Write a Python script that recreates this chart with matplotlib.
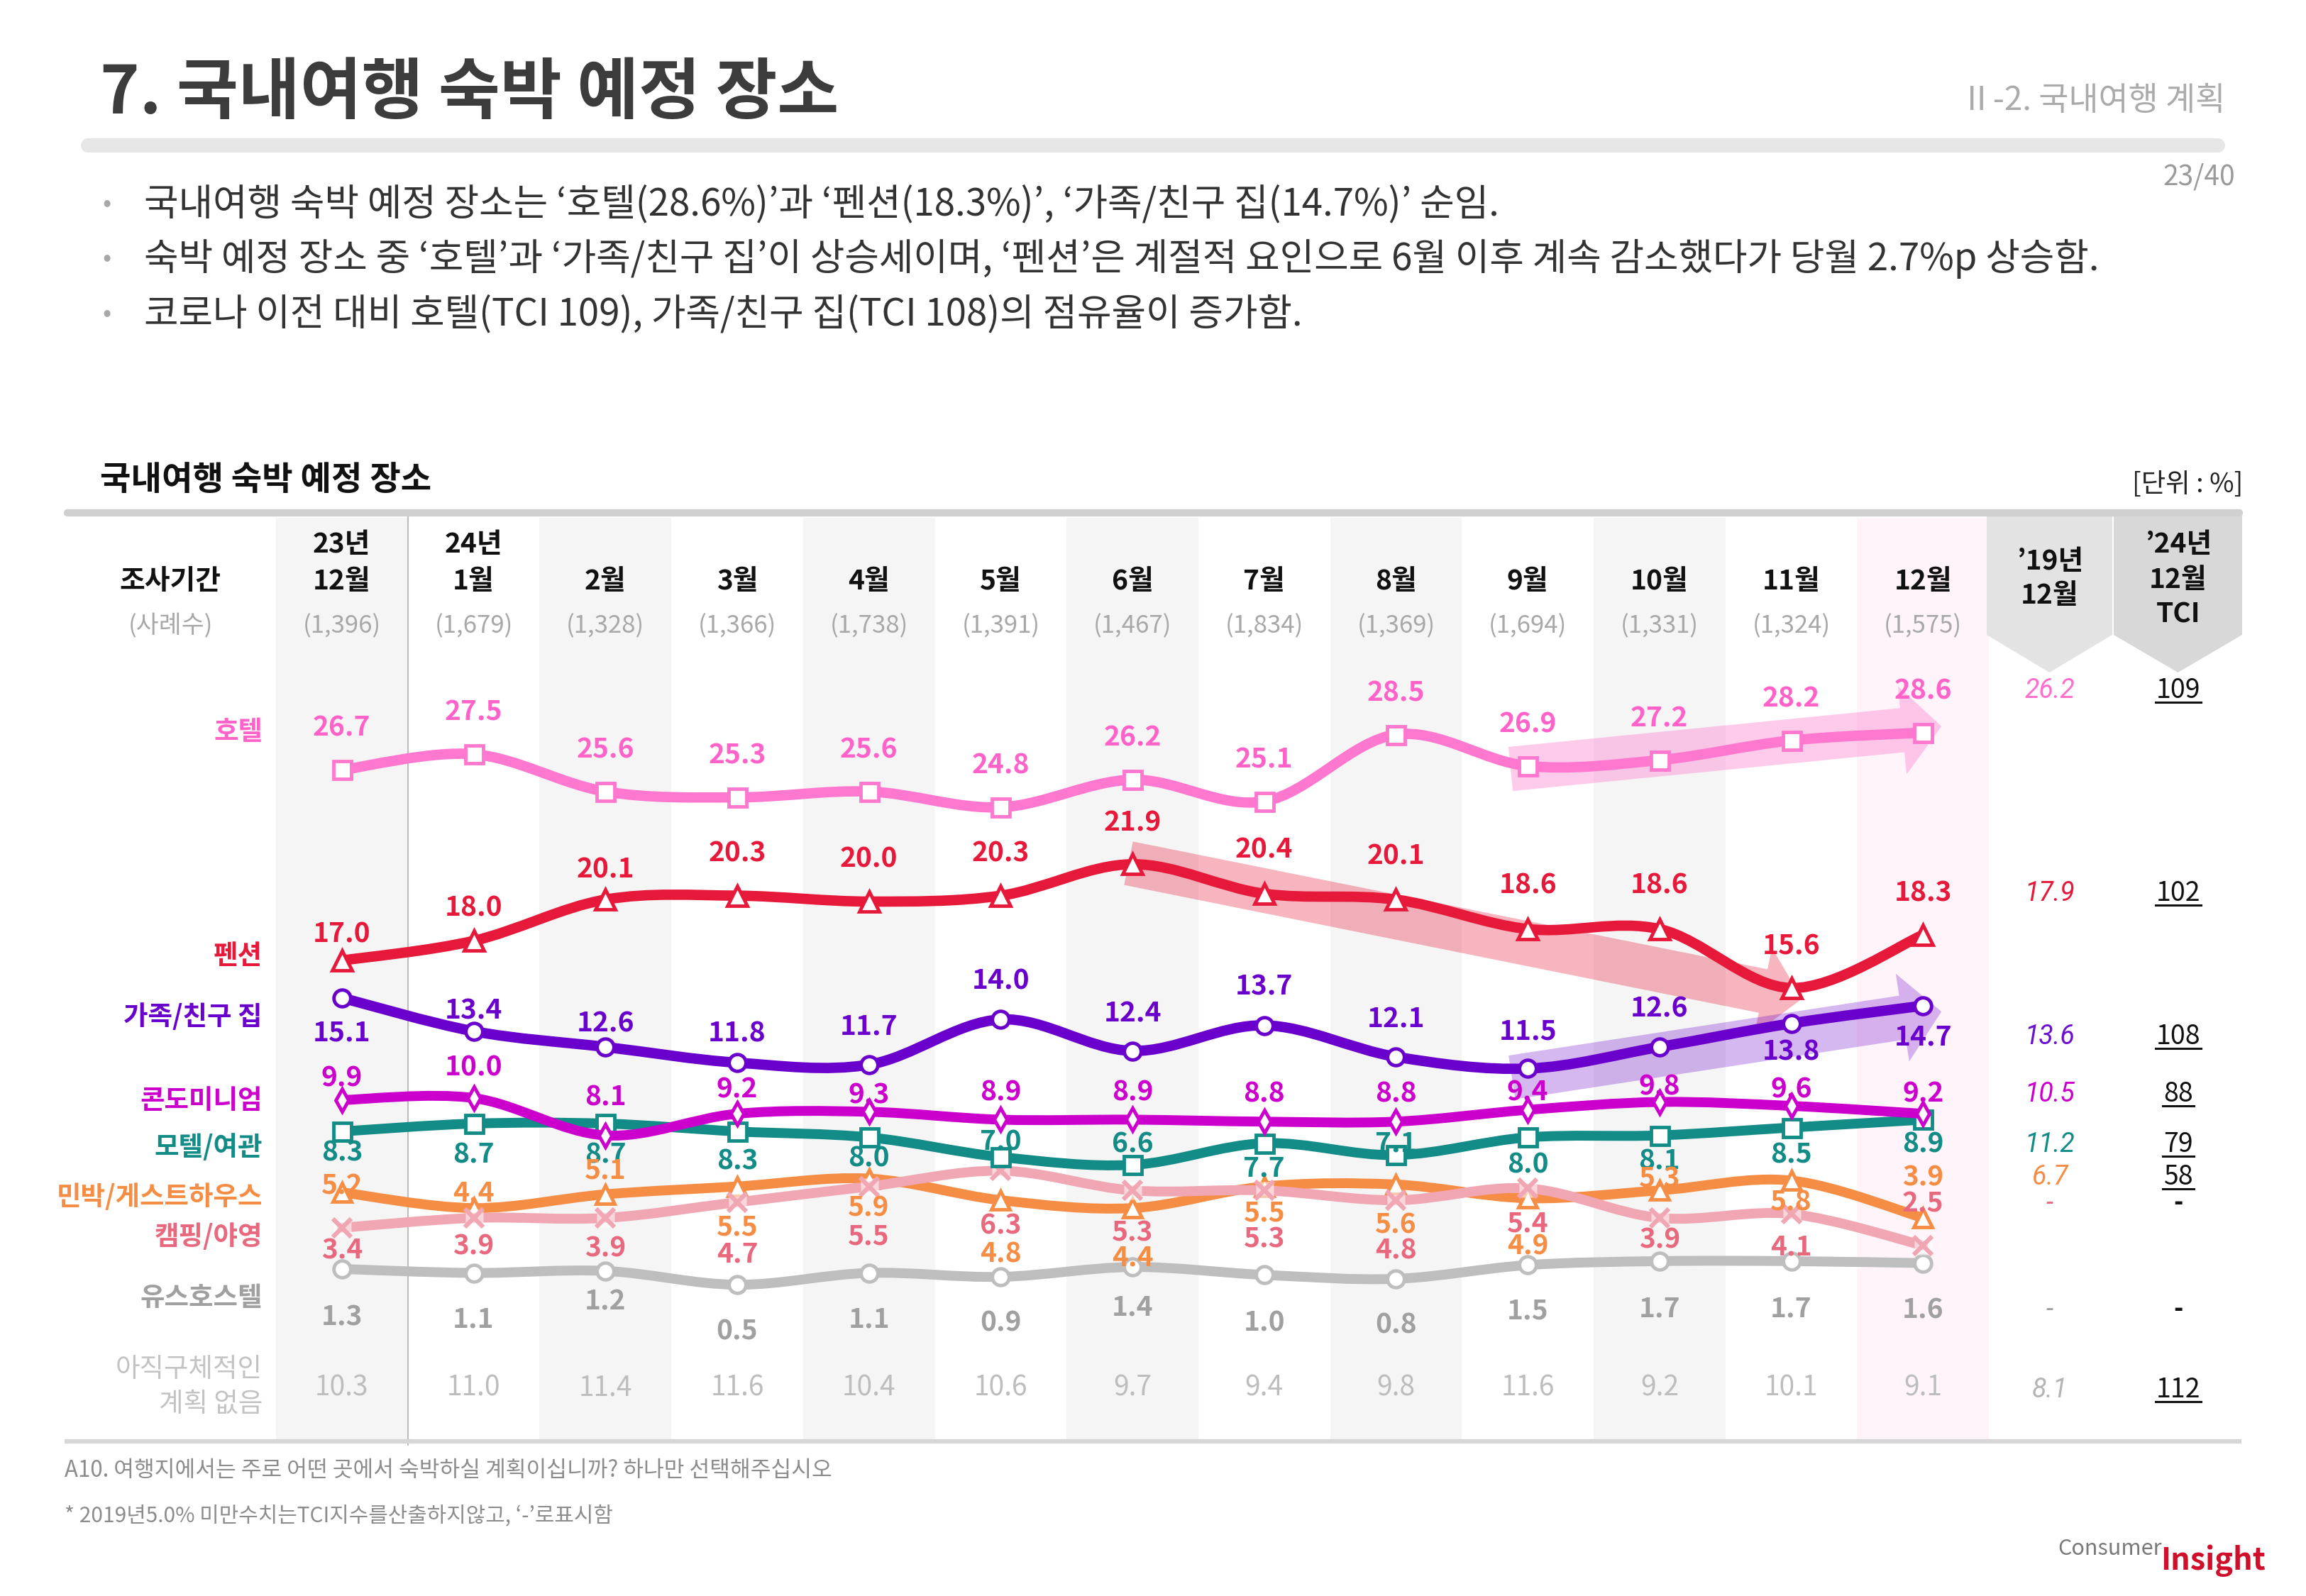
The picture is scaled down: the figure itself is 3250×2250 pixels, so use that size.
import numpy as np
import matplotlib
matplotlib.use('Agg')
import matplotlib.pyplot as plt
from matplotlib.path import Path
from matplotlib.patches import PathPatch, Polygon, Rectangle, FancyArrowPatch, ArrowStyle
from matplotlib.lines import Line2D
from matplotlib.transforms import IdentityTransform

plt.rcParams['font.family'] = ['Noto Sans CJK KR', 'DejaVu Sans']

# ---------------- data ----------------
year_labels = ['23년', '24년', '', '', '', '', '', '', '', '', '', '', '']
month_labels = ['12월', '1월', '2월', '3월', '4월', '5월', '6월', '7월', '8월', '9월', '10월', '11월', '12월']
sample_sizes = ['1,396', '1,679', '1,328', '1,366', '1,738', '1,391', '1,467',
                '1,834', '1,369', '1,694', '1,331', '1,324', '1,575']
categories = ['호텔', '펜션', '가족/친구 집', '콘도미니엄', '모텔/여관',
              '민박/게스트하우스', '캠핑/야영', '유스호스텔']
hotel = [26.7, 27.5, 25.6, 25.3, 25.6, 24.8, 26.2, 25.1, 28.5, 26.9, 27.2, 28.2, 28.6]
pension = [17.0, 18.0, 20.1, 20.3, 20.0, 20.3, 21.9, 20.4, 20.1, 18.6, 18.6, 15.6, 18.3]
family = [15.1, 13.4, 12.6, 11.8, 11.7, 14.0, 12.4, 13.7, 12.1, 11.5, 12.6, 13.8, 14.7]
condo = [9.9, 10.0, 8.1, 9.2, 9.3, 8.9, 8.9, 8.8, 8.8, 9.4, 9.8, 9.6, 9.2]
motel = [8.3, 8.7, 8.7, 8.3, 8.0, 7.0, 6.6, 7.7, 7.1, 8.0, 8.1, 8.5, 8.9]
minbak = [5.2, 4.4, 5.1, 5.5, 5.9, 4.8, 4.4, 5.5, 5.6, 4.9, 5.3, 5.8, 3.9]
camping = [3.4, 3.9, 3.9, 4.7, 5.5, 6.3, 5.3, 5.3, 4.8, 5.4, 3.9, 4.1, 2.5]
youth = [1.3, 1.1, 1.2, 0.5, 1.1, 0.9, 1.4, 1.0, 0.8, 1.5, 1.7, 1.7, 1.6]
undecided_label = '아직구체적인\n계획 없음'
undecided = [10.3, 11.0, 11.4, 11.6, 10.4, 10.6, 9.7, 9.4, 9.8, 11.6, 9.2, 10.1, 9.1]
base_2019 = [26.2, 17.9, 13.6, 10.5, 11.2, 6.7, None, None, 8.1]
tci_2024 = [109, 102, 108, 88, 79, 58, None, None, 112]

# ---------------- styles / layout ----------------
series_vals = [hotel, pension, family, condo, motel, minbak, camping, youth]
line_colors = ['#FF78CF', '#E6193A', '#6A00CC', '#CC00CC', '#138B86', '#F68D45', '#F0A7B3', '#BEBEBE']
text_colors = ['#FF62C8', '#E6193A', '#6A00CC', '#CC00CC', '#138B86', '#F68D45', '#E8687E', '#A0A0A0']
c2019_colors = ['#FF6FCB', '#E6193A', '#6A10D0', '#CC00CC', '#138B86', '#F68D45', '#E8687E', '#A0A0A0', '#B5B5B5']
markers = ['s', '^', 'o', 'd', 's', '^', 'x', 'o']
marker_sizes = [18, 20, 17, 16, 18, 19, 19, 17]
zorders = [12, 11, 10, 8, 7, 5, 6, 4]
# label offsets (pixels, downward positive)
label_dy = [
    [-59] * 13,
    [-37, -46, -42, -60, -60, -60, -58, -62, -61, -62, -62, -59, -59],
    [49, -29, -33, -41, -54, -54, -53, -55, -53, -52, -54, 40, 44],
    [-31, -43, -54, -34, -23, -38, -38, -39, -39, -25, -22, -23, -28],
    [30, 44, 44, 42, 30, -21, -29, 35, -16, 39, 36, 38, 35],
    [-9, -21, -34, 57, 41, 76, 70, 37, 57, 68, -16, 31, -57],
    [32, 40, 43, 73, 70, 78, 60, 69, 71, 50, 31, 47, -59],
    [68, 65, 43, 66, 65, 65, 57, 68, 65, 65, 67, 67, 66],
]
row_label_y = [1031, 1347, 1434, 1552, 1617, 1687, 1743, 1830]

W, H = 3250, 2250
X0, CW = 389.0, 185.7      # left edge of first column, column width (px)
Y0, PU = 1825.0, 27.7      # pixel row of value 0, pixels per percentage point


def xpx(px):
    return (px - X0) / CW - 0.5


def vpx(py):
    return (Y0 - py) / PU


fig = plt.figure(figsize=(W / 100, H / 100), dpi=100)
ax = fig.add_axes([0, 0, 1, 1])
ax.set_xlim(xpx(0), xpx(W))
ax.set_ylim(vpx(H), vpx(0))
ax.axis('off')

n = len(month_labels)
idx = np.arange(n)

# ---------------- header ----------------
ax.text(xpx(141), vpx(160), '7. 국내여행 숙박 예정 장소', fontsize=68, fontweight='heavy',
        color='#3C3C3C', ha='left', va='baseline')
ax.text(xpx(3136), vpx(155), 'Ⅱ-2. 국내여행 계획', fontsize=33, color='#ABABAB',
        ha='right', va='baseline')
ax.plot([xpx(124), xpx(3126)], [vpx(205)] * 2, color='#E6E6E6', lw=14.4,
        solid_capstyle='round')
ax.text(xpx(3150), vpx(260), '23/40', fontsize=28, color='#9A9A9A', ha='right', va='baseline')

bullets = ['국내여행 숙박 예정 장소는 ‘호텔(28.6%)’과 ‘펜션(18.3%)’, ‘가족/친구 집(14.7%)’ 순임.',
           '숙박 예정 장소 중 ‘호텔’과 ‘가족/친구 집’이 상승세이며, ‘펜션’은 계절적 요인으로 6월 이후 계속 감소했다가 당월 2.7%p 상승함.',
           '코로나 이전 대비 호텔(TCI 109), 가족/친구 집(TCI 108)의 점유율이 증가함.']
for by, bt in zip([288, 365, 443], bullets):
    ax.text(xpx(151), vpx(by), '•', fontsize=26, color='#A8A8A8', ha='center', va='center')
    ax.text(xpx(203), vpx(by), bt, fontsize=38, color='#333333', ha='left', va='center')

ax.text(xpx(141), vpx(677), '국내여행 숙박 예정 장소', fontsize=34, fontweight='bold',
        color='#111111', ha='left', va='center')
ax.text(xpx(3161), vpx(684), '[단위 : %]', fontsize=27, color='#222222', ha='right', va='center')

# ---------------- table background ----------------
band_top, band_bot = vpx(730), vpx(2031)
for i in range(n):
    if i == n - 1:
        col = '#FFF4FA'
    elif i % 2 == 0:
        col = '#F5F5F5'
    else:
        continue
    ax.add_patch(Rectangle((i - 0.5, band_bot), 1, band_top - band_bot, facecolor=col,
                           edgecolor='none', zorder=0))
ax.plot([0.5, 0.5], [vpx(727), vpx(2037)], color='#BDBDBD', lw=1.5, zorder=1)
ax.plot([xpx(95), xpx(3156)], [vpx(723)] * 2, color='#D0D0D0', lw=7.5,
        solid_capstyle='round', zorder=3)
ax.plot([xpx(91), xpx(3159)], [vpx(2032)] * 2, color='#D6D6D6', lw=4.5,
        solid_capstyle='butt', zorder=3)

# right header pentagons
for (xl, xr, col) in [(2800, 2977, '#E3E3E3'), (2979, 3160, '#D8D8D8')]:
    xs = [xpx(xl), xpx(xr), xpx(xr), xpx((xl + xr) / 2), xpx(xl)]
    ys = [vpx(727), vpx(727), vpx(895), vpx(948), vpx(895)]
    ax.add_patch(Polygon(np.column_stack([xs, ys]), closed=True, facecolor=col,
                         edgecolor='none', zorder=2))
x19, xtci = xpx(2889), xpx(3070)
hdr = dict(fontsize=28, fontweight='bold', color='#111111', ha='center', va='center', zorder=4)
ax.text(x19, vpx(791), '’19년', **hdr)
ax.text(x19, vpx(840), '12월', **hdr)
ax.text(xtci, vpx(767), '’24년', **hdr)
ax.text(xtci, vpx(818), '12월', **hdr)
ax.text(xtci, vpx(866), 'TCI', **hdr)

# column headers
ax.text(xpx(240), vpx(819), '조사기간', **hdr)
ax.text(xpx(240), vpx(883), '(사례수)', fontsize=25, color='#A8A8A8', ha='center', va='center')
for i in range(n):
    if year_labels[i]:
        ax.text(i, vpx(767), year_labels[i], **hdr)
    ax.text(i, vpx(819), month_labels[i], **hdr)
    ax.text(i, vpx(883), f'({sample_sizes[i]})', fontsize=25, color='#A8A8A8',
            ha='center', va='center')

# ---------------- trend arrows ----------------
trend_arrows = [
    (0, 9, 12, (-0.13, -0.15), (0.14, 0.32), '#FF8CD4', 0.45),
    (1, 6, 11, (-0.03, 0.05), (0.08, -0.55), '#E6193A', 0.32),
    (2, 9, 12, (-0.12, -0.45), (0.14, -0.30), '#6A00CC', 0.28),
]
for (k, i0, i1, o0, o1, col, al) in trend_arrows:
    vals = series_vals[k]
    pa = (i0 + o0[0], vals[i0] + o0[1])
    pb = (i1 + o1[0], vals[i1] + o1[1])
    arr = FancyArrowPatch(pa, pb, arrowstyle=ArrowStyle('Simple', head_length=40,
                                                         head_width=90, tail_width=45),
                          mutation_scale=1, shrinkA=0, shrinkB=0, facecolor=col,
                          edgecolor='none', alpha=al, zorder=2)
    ax.add_patch(arr)


# ---------------- smoothed series ----------------
def smooth_path(xs, ys):
    pts = np.column_stack([xs, ys]).astype(float)
    m = len(pts)
    verts = [pts[0]]
    codes = [Path.MOVETO]
    for i in range(m - 1):
        p0 = pts[i - 1] if i > 0 else pts[i]
        p1, p2 = pts[i], pts[i + 1]
        p3 = pts[i + 2] if i + 2 < m else pts[i + 1]
        verts += [p1 + (p2 - p0) / 6.0, p2 - (p3 - p1) / 6.0, p2]
        codes += [Path.CURVE4] * 3
    return Path(verts, codes)


for k, vals in enumerate(series_vals):
    z = zorders[k]
    lw = 10.5 if k < 3 else 10.0
    ax.add_patch(PathPatch(smooth_path(idx, vals), facecolor='none', edgecolor=line_colors[k],
                           lw=lw, capstyle='round', joinstyle='round', zorder=z))
    if markers[k] == 'x':
        ax.plot(idx, vals, ls='none', marker='s', ms=18, mfc='white', mec='none',
                alpha=0.55, zorder=z + 0.1)
        ax.plot(idx, vals, ls='none', marker='x', ms=marker_sizes[k], mec=line_colors[k],
                mew=4.5, zorder=z + 0.2)
    else:
        ax.plot(idx, vals, ls='none', marker=markers[k], ms=marker_sizes[k], mfc='white',
                mec=line_colors[k], mew=3.5, zorder=z + 0.2)

# value labels
for k, vals in enumerate(series_vals):
    for i, v in enumerate(vals):
        ax.annotate(f'{v:.1f}', (i, v), xytext=(0, -label_dy[k][i]), textcoords='offset pixels',
                    ha='center', va='center', fontsize=28, fontweight='bold',
                    color=text_colors[k], zorder=20)

# undecided row
und_y = vpx(1957)
for i, v in enumerate(undecided):
    ax.text(i, und_y, f'{v:.1f}', ha='center', va='center', fontsize=28,
            color='#BDBDBD', zorder=20)

# row labels
for k, name in enumerate(categories):
    ax.text(xpx(370), vpx(row_label_y[k]), name, ha='right', va='center', fontsize=27,
            fontweight='bold', color=text_colors[k], zorder=20)
ax.text(xpx(370), vpx(1955), undecided_label, ha='right', va='center', fontsize=27,
        color='#C3C3C3', linespacing=1.3, zorder=20)

# ---------------- right columns ----------------
row_y = []
for k, vals in enumerate(series_vals):
    row_y.append(vals[-1] - label_dy[k][-1] / PU)
row_y.append(vpx(1959))
tci_texts = []
for r in range(len(base_2019)):
    b = base_2019[r]
    ax.text(x19, row_y[r], '-' if b is None else f'{b:.1f}', ha='center', va='center',
            fontsize=27, family=['Roboto', 'DejaVu Sans'], style='italic', weight='normal',
            color=c2019_colors[r], zorder=20)
    t = tci_2024[r]
    if t is None:
        ax.text(xtci, row_y[r], '-', ha='center', va='center', fontsize=26,
                fontweight='bold', color='#111111', zorder=20)
    else:
        tci_texts.append(ax.text(xtci, row_y[r], f'{t}', ha='center', va='center',
                                 fontsize=27, color='#111111', zorder=20))

# ---------------- footer ----------------
ax.text(xpx(91), vpx(2073), 'A10. 여행지에서는 주로 어떤 곳에서 숙박하실 계획이십니까? 하나만 선택해주십시오',
        fontsize=22.5, color='#8C8C8C', ha='left', va='center')
ax.text(xpx(91), vpx(2137), '* 2019년5.0% 미만수치는TCI지수를산출하지않고, ‘-’로표시함',
        fontsize=21.5, color='#8C8C8C', ha='left', va='center')
ax.text(xpx(3047), vpx(2183), 'Consumer', fontsize=22, color='#7A7A7A', ha='right', va='center')
ax.text(xpx(3045), vpx(2200), 'Insight', fontsize=31, fontweight='bold', color='#D0102A',
        ha='left', va='center')

# underline TCI values
fig.canvas.draw()
rend = fig.canvas.get_renderer()
for t in tci_texts:
    bb = t.get_window_extent(renderer=rend)
    yb = bb.y0 + 3
    fig.add_artist(Line2D([bb.x0 - 1, bb.x1 + 1], [yb, yb], transform=IdentityTransform(),
                          color='#111111', lw=2.2))

fig.savefig('out.png', dpi=100)
